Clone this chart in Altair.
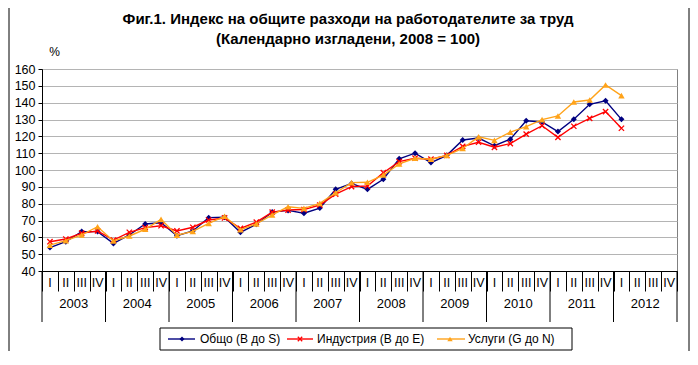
import altair as alt
import pandas as pd

# ---------------- data ----------------
years = list(range(2003, 2013))
quarter_labels = ["I", "II", "III", "IV"]
series_names = ["Общо  (B до S)", "Индустрия (B до E)", "Услуги (G до N)"]

obshto = [53.9, 57.4, 63.4, 63.4,
          56.4, 61.4, 67.9, 68.7,
          61.0, 63.8, 71.7, 72.0,
          63.0, 67.8, 75.0, 76.0,
          74.3, 77.4, 88.5, 92.0,
          88.5, 94.5, 106.7, 110.0,
          104.4, 108.7, 117.8, 119.0,
          114.4, 118.3, 129.3, 128.5,
          122.8, 130.1, 139.0, 141.1,
          130.1]
industry = [57.4, 59.0, 62.5, 63.8,
            58.4, 63.0, 65.8, 66.9,
            63.8, 66.0, 70.3, 71.5,
            65.3, 69.0, 75.0, 76.2,
            76.5, 79.2, 85.7, 90.1,
            90.5, 98.4, 105.0, 107.0,
            106.4, 108.7, 114.0, 116.5,
            113.5, 115.7, 121.3, 126.3,
            119.4, 126.0, 130.7, 134.7,
            124.8]
services = [55.4, 58.0, 61.4, 66.3,
            57.8, 60.8, 64.8, 70.7,
            61.3, 63.5, 68.3, 72.5,
            64.5, 68.0, 73.3, 78.2,
            77.2, 80.2, 86.5, 92.5,
            92.7, 97.0, 103.6, 107.0,
            106.4, 108.7, 112.8, 119.7,
            117.6, 122.5, 125.8, 129.9,
            132.1, 140.4, 141.6, 150.5,
            144.2]

colors = ["#000080", "#FF0000", "#FFA31A"]
title_lines = ["Фиг.1. Индекс на общите разходи на работодателите за труд",
               "(Календарно изгладени, 2008 = 100)"]

values_by_series = [obshto, industry, services]
n_q = len(years) * 4

# ---------------- scales / axes ----------------
FONT = "Liberation Sans"
xs = alt.Scale(domain=[0, n_q], nice=False, zero=False)
ys = alt.Scale(domain=[40, 160], nice=False, zero=False)
x_axis = alt.Axis(values=list(range(0, n_q + 1)), tickSize=20, tickColor="black",
                  domainColor="black", labels=False, grid=False, title=None)
y_axis = alt.Axis(values=list(range(40, 161, 10)), grid=True, gridColor="#b4b4b4",
                  domainColor="black", tickColor="black", tickSize=4,
                  labelFontSize=12.5, labelColor="black", labelPadding=3,
                  labelFont=FONT, title="%", titleAngle=0, titleX=12, titleY=-11,
                  titleFontWeight="normal", titleFontSize=12, titleFont=FONT,
                  titleColor="black")


def X(field):
    return alt.X(field, scale=xs, axis=x_axis)


def Y(field):
    return alt.Y(field, scale=ys, axis=y_axis)


layers = []

# series lines and markers
shapes = [("diamond", True, 36, 1), ("M-1,-1L1,1M-1,1L1,-1", False, 28, 1.3),
          ("triangle-up", True, 42, 1)]
for name, vals, col, (shp, filled, sz, sw) in zip(series_names, values_by_series, colors, shapes):
    df = pd.DataFrame({"pos": [i + 0.5 for i in range(len(vals))], "value": vals})
    base = alt.Chart(df)
    layers.append(base.mark_line(color=col, strokeWidth=1.4).encode(x=X("pos:Q"), y=Y("value:Q")))
    layers.append(base.mark_point(shape=shp, filled=filled, size=sz, color=col,
                                  strokeWidth=sw, opacity=1).encode(x=X("pos:Q"), y=Y("value:Q")))

# year separators
yb = pd.DataFrame({"b": [4 * k for k in range(len(years) + 1)]})
layers.append(alt.Chart(yb).mark_rule(color="black", strokeWidth=1).encode(
    x=X("b:Q"), y=alt.value(202), y2=alt.value(253)))

# quarter labels
ql = pd.DataFrame({"pos": [i + 0.5 for i in range(n_q)],
                   "lab": [quarter_labels[i % 4] for i in range(n_q)]})
layers.append(alt.Chart(ql).mark_text(fontSize=12.5, font=FONT, color="black",
                                      baseline="middle").encode(
    x=X("pos:Q"), y=alt.value(214), text="lab:N"))

# year labels
yl = pd.DataFrame({"pos": [4 * k + 2 for k in range(len(years))], "lab": [str(y) for y in years]})
layers.append(alt.Chart(yl).mark_text(fontSize=13, font=FONT, color="black",
                                      baseline="middle").encode(
    x=X("pos:Q"), y=alt.value(235), text="lab:N"))

# title (two centred lines)
one = pd.DataFrame({"d": [0]})
for line, ty in zip(title_lines, (-50, -30)):
    td = pd.DataFrame({"t": [line]})
    layers.append(alt.Chart(td).mark_text(fontSize=15, font=FONT, fontWeight="bold",
                                          color="black", baseline="middle", align="center").encode(
        x=alt.value(306), y=alt.value(ty), text="t:N"))

# legend (manual, Excel style)
layers.append(alt.Chart(one).mark_rect(fill="white", stroke="black", strokeWidth=1).encode(
    x=alt.value(118), x2=alt.value(530), y=alt.value(259), y2=alt.value(281)))
leg_pos = [(126, 153, 140, 158), (245, 271, 258, 275), (395, 423, 408, 426)]
LY = 270
for name, col, (a, b, m, t), (shp, filled, sz, sw) in zip(series_names, colors, leg_pos, shapes):
    nd = pd.DataFrame({"name": [name]})
    c = alt.Chart(nd)
    layers.append(c.mark_rule(color=col, strokeWidth=1.4).encode(
        x=alt.value(a), x2=alt.value(b), y=alt.value(LY)))
    layers.append(c.mark_point(shape=shp, filled=filled, size=sz * 0.7, color=col,
                               strokeWidth=sw, opacity=1).encode(x=alt.value(m), y=alt.value(LY)))
    layers.append(c.mark_text(align="left", baseline="middle", fontSize=12, font=FONT,
                              color="black").encode(x=alt.value(t), y=alt.value(LY), text="name:N"))

# outer frame (left / right edges)
for fx in (-33, 647):
    layers.append(alt.Chart(one).mark_rule(color="black", strokeWidth=1).encode(
        x=alt.value(fx), y=alt.value(-61), y2=alt.value(282)))

chart = alt.layer(*layers).properties(
    width=635, height=202,
    padding={"left": 34, "top": 61, "right": 13, "bottom": 80},
    autosize=alt.AutoSizeParams(type="none"),
    background="white",
).configure_view(stroke="#808080", strokeWidth=1)

chart.save("out.html", embed_options={"renderer": "svg", "actions": False})
